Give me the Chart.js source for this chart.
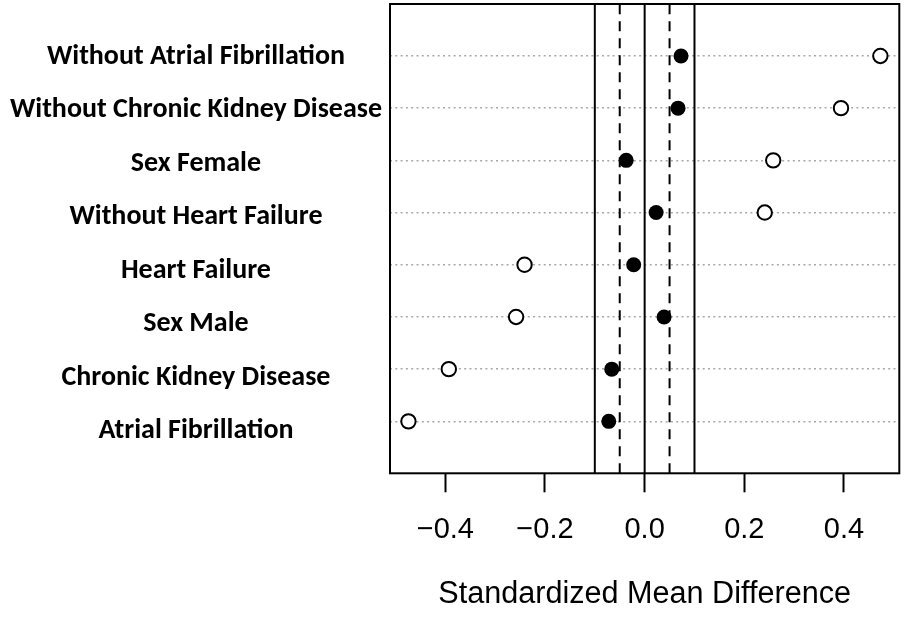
<!DOCTYPE html>
<html>
<head>
<meta charset="utf-8">
<script src="https://cdn.jsdelivr.net/npm/chart.js@4.4.1/dist/chart.umd.min.js"></script>
<style>
  html, body { margin: 0; padding: 0; background: #fff; }
  #wrap { width: 905px; height: 619px; }
</style>
</head>
<body>
<div id="wrap"><canvas id="c"></canvas></div>
<script>
// 共変量（上から順）
const covariates = [
  'Without Atrial Fibrillation',
  'Without Chronic Kidney Disease',
  'Sex Female',
  'Without Heart Failure',
  'Heart Failure',
  'Sex Male',
  'Chronic Kidney Disease',
  'Atrial Fibrillation',
];
// 調整後（黒丸）
const adjusted   = [0.073, 0.067, -0.037, 0.023, -0.022, 0.039, -0.066, -0.072];
// 調整前（白丸）
const unadjusted = [0.473, 0.394, 0.258, 0.241, -0.241, -0.258, -0.393, -0.474];
// 目盛り
const xTicks = [-0.4, -0.2, 0.0, 0.2, 0.4];
const solidLines  = [-0.1, 0, 0.1];
const dashedLines = [-0.05, 0.05];

const X_MIN = -0.511, X_MAX = 0.511;
const Y_MIN = 0.005, Y_MAX = 8.995;

const n = covariates.length;
const rowY = i => n - i;

const fmt = v => {
  const s = Math.abs(v).toFixed(1);
  return v < -1e-9 ? '\u2212' + s : s;
};

const vline = (x, dash) => ({
  type: 'line',
  data: [{ x, y: Y_MIN }, { x, y: Y_MAX }],
  borderColor: '#000',
  borderWidth: 2,
  borderDash: dash,
  pointRadius: 0,
  fill: false,
});

const datasets = [
  ...solidLines.map(x => vline(x, [])),
  ...dashedLines.map(x => vline(x, [10, 7])),
  {
    type: 'scatter',
    data: unadjusted.map((v, i) => ({ x: v, y: rowY(i) })),
    pointRadius: 7.2,
    pointBackgroundColor: '#fff',
    pointBorderColor: '#000',
    pointBorderWidth: 2,
  },
  {
    type: 'scatter',
    data: adjusted.map((v, i) => ({ x: v, y: rowY(i) })),
    pointRadius: 7.5,
    pointBackgroundColor: '#000',
    pointBorderColor: '#000',
    pointBorderWidth: 0,
  },
];

// プロット枠
const boxPlugin = {
  id: 'box',
  afterDatasetsDraw(chart) {
    const { ctx, chartArea: a } = chart;
    ctx.save();
    ctx.strokeStyle = '#000';
    ctx.lineWidth = 2;
    ctx.strokeRect(a.left, a.top, a.right - a.left, a.bottom - a.top);
    ctx.restore();
  },
};

new Chart(document.getElementById('c'), {
  type: 'scatter',
  data: { datasets },
  plugins: [boxPlugin],
  options: {
    responsive: true,
    maintainAspectRatio: false,
    animation: false,
    events: [],
    layout: { autoPadding: false, padding: { left: 0, right: 5.7, top: 4, bottom: 0 } },
    plugins: { legend: { display: false }, tooltip: { enabled: false } },
    scales: {
      x: {
        type: 'linear',
        min: X_MIN,
        max: X_MAX,
        afterBuildTicks: s => { s.ticks = xTicks.map(v => ({ value: v })); },
        afterFit: s => { s.height = 145.7; s.paddingLeft = 0; s.paddingRight = 0; },
        border: { display: false },
        grid: { drawOnChartArea: false, drawTicks: true, tickLength: 19, tickWidth: 2, tickColor: '#000' },
        ticks: {
          padding: 20,
          color: '#000',
          font: { family: '"Liberation Sans", Arial, sans-serif', size: 29 },
          callback: v => fmt(v),
          maxRotation: 0,
        },
        title: {
          display: true,
          text: 'Standardized Mean Difference',
          color: '#000',
          font: { family: '"Liberation Sans", Arial, sans-serif', size: 30.6 },
          padding: { top: 0, bottom: 6 },
        },
      },
      // データ用（点線グリッドのみ）
      y: {
        type: 'linear',
        position: 'left',
        min: Y_MIN,
        max: Y_MAX,
        afterBuildTicks: s => { s.ticks = covariates.map((_, i) => ({ value: rowY(i) })); },
        afterFit: s => { s.width = 0; s.paddingTop = 0; s.paddingBottom = 0; },
        border: { display: false, dash: [2, 3.3] },
        grid: { drawTicks: false, color: '#a8a8a8', lineWidth: 1.5 },
        ticks: { display: false },
      },
      // ラベル用（元図ではラベル間隔が行間隔よりやや広い）
      yl: {
        type: 'linear',
        position: 'left',
        min: 0.208,
        max: 8.992,
        afterBuildTicks: s => { s.ticks = covariates.map((_, i) => ({ value: rowY(i) })); },
        afterFit: s => { s.width = 390; s.paddingTop = 0; s.paddingBottom = 0; },
        border: { display: false },
        grid: { display: false, drawTicks: false },
        ticks: {
          padding: 8,
          crossAlign: 'center',
          color: '#000',
          font: { family: 'Carlito, Lato, "Open Sans", sans-serif', size: 28, weight: 'bold' },
          callback: v => covariates[n - Math.round(v)],
        },
      },
    },
  },
});
</script>
</body>
</html>
